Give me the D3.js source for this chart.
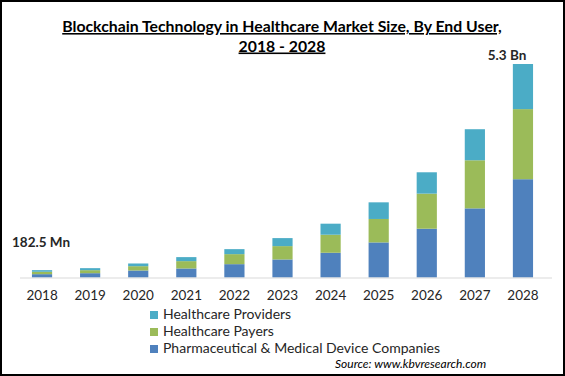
<!DOCTYPE html>
<html>
<head>
<meta charset="utf-8">
<script src="https://cdn.jsdelivr.net/npm/d3@7"></script>
<style>
  body { margin: 0; background: #fff; }
  svg { display: block; }
</style>
</head>
<body>
<div id="chart"></div>
<script>
// data (USD Bn)
const YEARS = ["2018", "2019", "2020", "2021", "2022", "2023", "2024", "2025", "2026", "2027", "2028"];
const PHARMA = [0.0825, 0.107, 0.174, 0.224, 0.331, 0.448, 0.614, 0.871, 1.211, 1.716, 2.44];
const PAYERS = [0.060, 0.075, 0.107, 0.182, 0.249, 0.331, 0.448, 0.582, 0.871, 1.194, 1.74];
const PROVIDERS = [0.040, 0.050, 0.067, 0.100, 0.124, 0.199, 0.274, 0.413, 0.530, 0.771, 1.12];
const SERIES = ["Pharmaceutical & Medical Device Companies", "Healthcare Payers", "Healthcare Providers"];
const COLORS = ["#4f81bd", "#9bbb59", "#4bacc6"];

const FRAME_WIDTH = 565;
const FRAME_HEIGHT = 376;
const FONT = "Lato, 'Open Sans', sans-serif";

const FRAME = d3.select("#chart")
                .append("svg")
                  .attr("width", FRAME_WIDTH)
                  .attr("height", FRAME_HEIGHT);

// outer border
FRAME.append("rect")
    .attr("x", 1).attr("y", 1)
    .attr("width", FRAME_WIDTH - 2).attr("height", FRAME_HEIGHT - 2)
    .attr("fill", "#fff")
    .attr("stroke", "#000")
    .attr("stroke-width", 2);

// scales
const X_SCALE = d3.scaleBand()
                  .domain(YEARS)
                  .range([18, 547])
                  .paddingInner(0.58)
                  .paddingOuter(0.29);
const Y_SCALE = d3.scaleLinear()
                  .domain([0, 5.3])
                  .range([277.5, 64]);

// stack the three series
const rows = YEARS.map((y, i) => ({year: y, s0: PHARMA[i], s1: PAYERS[i], s2: PROVIDERS[i]}));
const stacked = d3.stack().keys(["s0", "s1", "s2"])(rows);

FRAME.selectAll(".layer")
    .data(stacked)
    .enter()
    .append("g")
      .attr("fill", (d, i) => COLORS[i])
    .selectAll("rect")
    .data((d) => d)
    .enter()
    .append("rect")
      .attr("x", (d) => X_SCALE(d.data.year))
      .attr("y", (d) => Y_SCALE(d[1]))
      .attr("width", X_SCALE.bandwidth())
      .attr("height", (d) => Y_SCALE(d[0]) - Y_SCALE(d[1]));

// x axis line
FRAME.append("line")
    .attr("x1", 20).attr("x2", 552)
    .attr("y1", Y_SCALE(0) + 0.5).attr("y2", Y_SCALE(0) + 0.5)
    .attr("stroke", "#d9d9d9")
    .attr("stroke-width", 1);

// x axis labels
const xAxis = FRAME.append("g")
    .attr("transform", "translate(0," + Y_SCALE(0) + ")")
    .call(d3.axisBottom(X_SCALE).tickSize(0).tickPadding(13));
xAxis.select(".domain").remove();
xAxis.selectAll("text")
    .attr("font-family", FONT)
    .attr("font-size", "13.5px")
    .attr("fill", "#262626");

// title
const title = FRAME.append("text")
    .attr("x", 282)
    .attr("text-anchor", "middle")
    .attr("font-family", FONT)
    .attr("font-weight", "bold")
    .attr("font-size", "15.8px")
    .attr("fill", "#000")
    .attr("text-decoration", "underline");
title.append("tspan").attr("x", 282).attr("y", 32)
    .text("Blockchain Technology in Healthcare Market Size, By End User,");
title.append("tspan").attr("x", 282).attr("y", 51.5)
    .text("2018 - 2028");

// value labels
FRAME.append("text")
    .attr("x", 507).attr("y", 60)
    .attr("text-anchor", "middle")
    .attr("font-family", FONT)
    .attr("font-weight", "bold")
    .attr("font-size", "13.5px")
    .attr("fill", "#262626")
    .text("5.3  Bn");
FRAME.append("text")
    .attr("x", 12).attr("y", 246.5)
    .attr("font-family", FONT)
    .attr("font-weight", "bold")
    .attr("font-size", "13.5px")
    .attr("fill", "#262626")
    .text("182.5  Mn");

// legend (providers on top)
const legendOrder = [2, 1, 0];
const legend = FRAME.selectAll(".legend")
    .data(legendOrder)
    .enter()
    .append("g")
      .attr("transform", (d, i) => "translate(150," + (311 + i * 17) + ")");
legend.append("rect")
    .attr("width", 8).attr("height", 8)
    .attr("fill", (d) => COLORS[d]);
legend.append("text")
    .attr("x", 13).attr("y", 8)
    .attr("font-family", FONT)
    .attr("font-size", "14px")
    .attr("fill", "#262626")
    .text((d) => SERIES[d]);

// source
FRAME.append("text")
    .attr("x", 335).attr("y", 368)
    .attr("font-family", FONT)
    .attr("font-style", "italic")
    .attr("font-size", "12px")
    .attr("fill", "#000")
    .text("Source:  www.kbvresearch.com");
</script>
</body>
</html>
